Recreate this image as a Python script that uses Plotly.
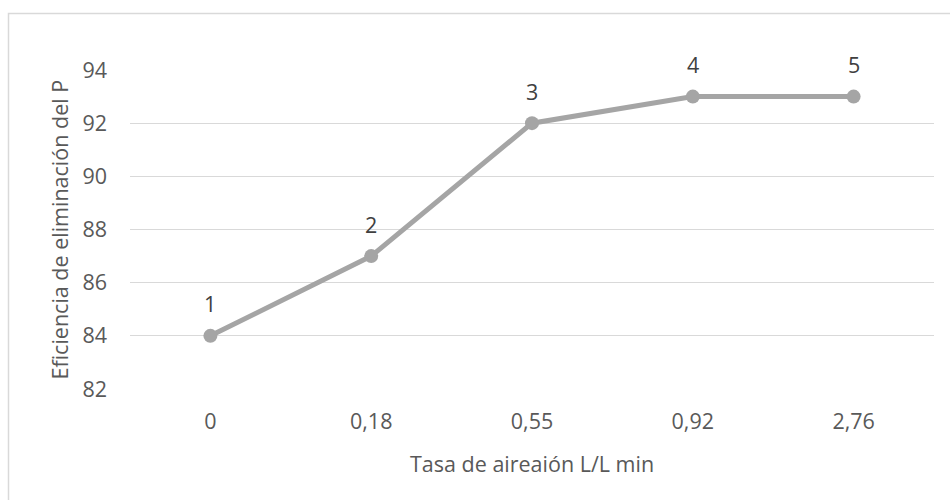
import plotly.graph_objects as go

# Aeration rate categories (L/L min) and phosphorus removal efficiency (%)
rates = ["0", "0,18", "0,55", "0,92", "2,76"]
efficiency = [84, 87, 92, 93, 93]
point_labels = ["1", "2", "3", "4", "5"]

y_ticks = [82, 84, 86, 88, 90, 92, 94]

W, H = 950, 500
L, R, T, B = 130, 16, 70, 111
plot_w = W - L - R
plot_h = H - T - B

FONT = "Open Sans"
GRID = "#D9D9D9"
LINE = "#A5A5A5"
TXT = "#595959"
FS = 21.5

fig = go.Figure()
fig.add_trace(go.Scatter(
    x=rates, y=efficiency,
    mode="lines+markers",
    line=dict(color=LINE, width=5),
    marker=dict(color=LINE, size=14),
    hoverinfo="skip",
    showlegend=False,
))

# Point numbers above each marker
annotations = [
    dict(x=xv, y=yv, text=t, xref="x", yref="y", showarrow=False,
         yshift=32, font=dict(family=FONT, size=FS, color="#404040"))
    for xv, yv, t in zip(rates, efficiency, point_labels)
]

# Axis titles
annotations.append(dict(
    text="Tasa de aireaión L/L min", xref="paper", yref="paper",
    x=0.5, y=(389 - 463) / plot_h, showarrow=False,
    xanchor="center", yanchor="middle",
    font=dict(family=FONT, size=FS, color=TXT),
))
annotations.append(dict(
    text="Eficiencia de eliminación del P", xref="paper", yref="paper",
    x=(59 - L) / plot_w, y=0.5, showarrow=False, textangle=-90,
    xanchor="center", yanchor="middle",
    font=dict(family=FONT, size=FS, color=TXT),
))

# Chart frame
shapes = [dict(
    type="rect", xref="paper", yref="paper",
    x0=(8.5 - L) / plot_w, x1=(W + 10 - L) / plot_w,
    y0=(389 - (H + 10)) / plot_h, y1=(389 - 13.5) / plot_h,
    line=dict(color=GRID, width=1.5), fillcolor="rgba(0,0,0,0)",
    layer="below",
)]

fig.update_layout(
    width=W, height=H,
    margin=dict(l=L, r=R, t=T, b=B, pad=0),
    paper_bgcolor="white", plot_bgcolor="white",
    font=dict(family=FONT, size=FS, color=TXT),
    annotations=annotations,
    shapes=shapes,
    xaxis=dict(
        type="category", range=[-0.5, 4.5],
        showgrid=False, showline=False, zeroline=False,
        ticks="", ticklabelstandoff=17,
        tickfont=dict(family=FONT, size=FS, color=TXT),
        fixedrange=True,
    ),
    yaxis=dict(
        range=[82, 94], tickvals=y_ticks,
        showgrid=True, gridcolor=GRID, gridwidth=1.3,
        showline=False, zeroline=False, ticks="",
        ticklabelstandoff=22,
        tickfont=dict(family=FONT, size=FS, color=TXT),
        fixedrange=True,
    ),
)

fig.write_html("out.html", config={"displayModeBar": False})
